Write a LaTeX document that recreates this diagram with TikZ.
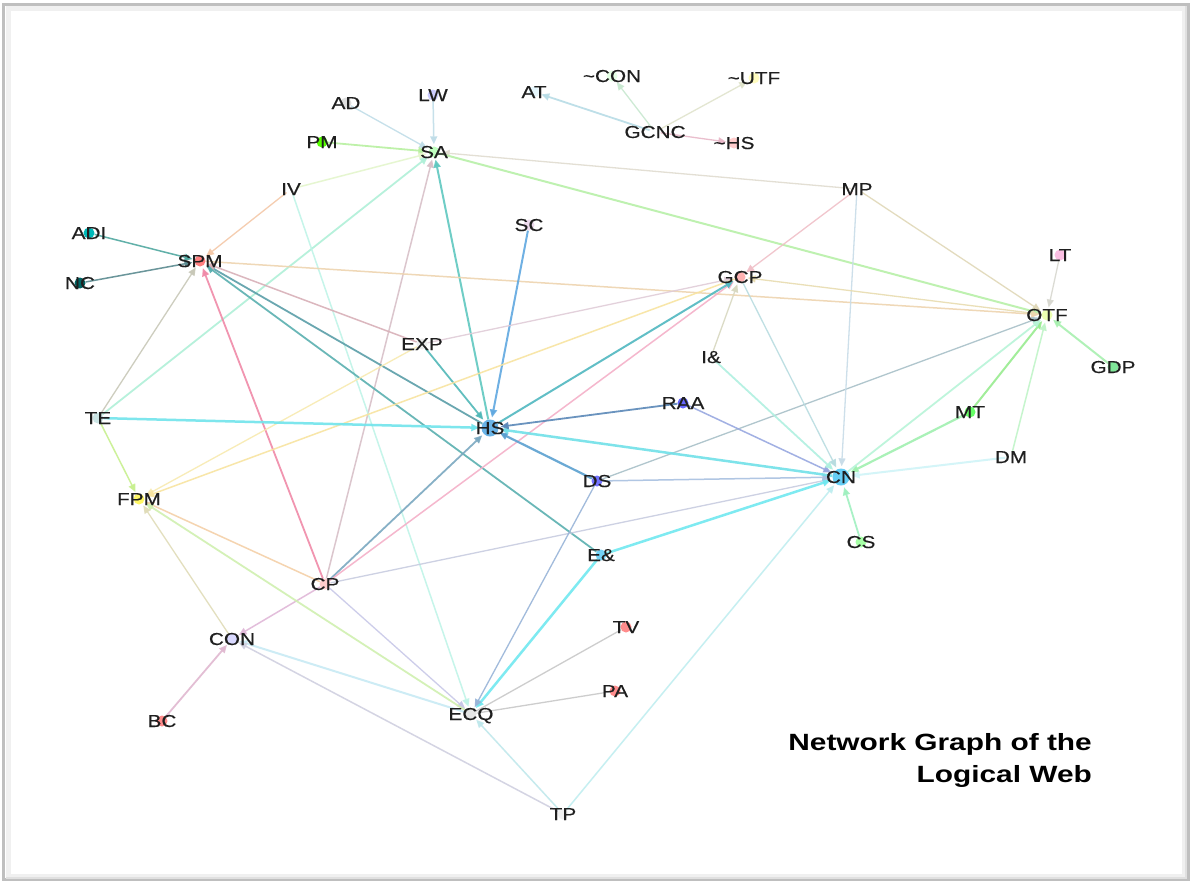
\documentclass[tikz,border=0pt]{standalone}
\usepackage{fontspec}
\usetikzlibrary{arrows.meta}
\newfontfamily\labfont[FakeStretch=1.2,FakeBold=0.35]{Liberation Sans}
\newfontfamily\titfont[FakeStretch=1.27]{Liberation Sans}
\pgfdeclarelayer{back}
\pgfdeclarelayer{edges}
\pgfsetlayers{back,edges,main}
\tikzset{
  dot/.style={circle, inner sep=0pt, minimum size=11pt, draw=none},
  bigdot/.style={circle, inner sep=0pt, minimum size=17pt, draw=none},
  lab/.style={font=\labfont\fontsize{17.3}{19}\selectfont, text=black!88, inner sep=0pt, anchor=base},
  ed/.style={line width=1.3pt, -{Triangle[length=8pt,width=7pt]}, shorten >=2pt, draw opacity=0.9},
  pl/.style={line width=1.3pt, draw opacity=0.9},
  titletext/.style={font=\titfont\bfseries\fontsize{23.5}{30}\selectfont, text=black, inner sep=0pt, anchor=base east}
}
\begin{document}
\begin{tikzpicture}[x=1pt,y=-1pt]
\useasboundingbox (0,0) rectangle (1192,884);
\begin{pgfonlayer}{back}
\fill[white] (0,0) rectangle (1192,884);
\draw[line width=5pt, black!6] (8,8) rectangle (1184,876);
\draw[line width=3pt, black!25] (3.5,4) rectangle (1188.5,879.5);
\draw[line width=2pt, black!12] (1186,6) -- (1186,878) -- (6,878);
\end{pgfonlayer}

% nodes (dots)
\node[dot, fill=gray!25] (AD) at (346,103) {};
\node[dot, fill=blue!20] (LW) at (433,95) {};
\node[dot, fill=cyan!10] (AT) at (534,92) {};
\node[dot, fill=green!10] (nCON) at (612,76) {};
\node[dot, fill=yellow!25] (nUTF) at (754,78) {};
\node[dot, fill=white] (GCNC) at (655,132) {};
\node[dot, fill=red!20] (nHS) at (734,143) {};
\node[dot, fill=green!55!lime] (PM) at (322,142) {};
\node[dot, fill=green!25] (SA) at (434,152) {};
\node[dot, fill=white] (IV) at (291,189) {};
\node[dot, fill=white] (MP) at (857,189) {};
\node[dot, fill=violet!15] (SC) at (529,225) {};
\node[dot, fill=teal!55!cyan] (ADI) at (89,233) {};
\node[dot, fill=red!50] (SPM) at (200,261) {};
\node[dot, fill=teal!80!black] (NC) at (80,283) {};
\node[dot, fill=red!30] (GCP) at (740,277) {};
\node[dot, fill=magenta!25] (LT) at (1060,255) {};
\node[dot, fill=lime!30] (OTF) at (1047,315) {};
\node[dot, fill=gray!15] (EXP) at (422,344) {};
\node[dot, fill=white] (Iand) at (711,357) {};
\node[dot, fill=teal!40!green!50] (GDP) at (1113,367) {};
\node[dot, fill=blue!60] (RAA) at (683,403) {};
\node[dot, fill=teal!20] (TE) at (98,418) {};
\node[bigdot, fill=cyan!75!blue!60] (HS) at (490,428) {};
\node[dot, fill=green!60] (MT) at (970,412) {};
\node[dot, fill=white] (DM) at (1011,457) {};
\node[dot, fill=blue!55] (DS) at (597,481) {};
\node[bigdot, fill=cyan!60] (CN) at (841,477) {};
\node[dot, fill=yellow!60] (FPM) at (139,499) {};
\node[dot, fill=green!35] (CS) at (861,542) {};
\node[dot, fill=cyan!55] (Eand) at (601,555) {};
\node[dot, fill=red!20] (CP) at (325,584) {};
\node[dot, fill=red!45] (TV) at (626,627) {};
\node[dot, fill=blue!15] (CON) at (232,639) {};
\node[dot, fill=red!45] (PA) at (615,691) {};
\node[dot, fill=red!45] (BC) at (162,721) {};
\node[dot, fill=gray!20] (ECQ) at (471,714) {};
\node[dot, fill=gray!12] (TP) at (563,814) {};

% labels
\node[lab] (AD-l) at ([yshift=-6pt]AD) {AD};
\node[lab] (LW-l) at ([yshift=-6pt]LW) {LW};
\node[lab] (AT-l) at ([yshift=-6pt]AT) {AT};
\node[lab] (nCON-l) at ([yshift=-6pt]nCON) {\textasciitilde CON};
\node[lab] (nUTF-l) at ([yshift=-6pt]nUTF) {\textasciitilde UTF};
\node[lab] (GCNC-l) at ([yshift=-6pt]GCNC) {GCNC};
\node[lab] (nHS-l) at ([yshift=-6pt]nHS) {\textasciitilde HS};
\node[lab] (PM-l) at ([yshift=-6pt]PM) {PM};
\node[lab] (SA-l) at ([yshift=-6pt]SA) {SA};
\node[lab] (IV-l) at ([yshift=-6pt]IV) {IV};
\node[lab] (MP-l) at ([yshift=-6pt]MP) {MP};
\node[lab] (SC-l) at ([yshift=-6pt]SC) {SC};
\node[lab] (ADI-l) at ([yshift=-6pt]ADI) {ADI};
\node[lab] (SPM-l) at ([yshift=-6pt]SPM) {SPM};
\node[lab] (NC-l) at ([yshift=-6pt]NC) {NC};
\node[lab] (GCP-l) at ([yshift=-6pt]GCP) {GCP};
\node[lab] (LT-l) at ([yshift=-6pt]LT) {LT};
\node[lab] (OTF-l) at ([yshift=-6pt]OTF) {OTF};
\node[lab] (EXP-l) at ([yshift=-6pt]EXP) {EXP};
\node[lab] (Iand-l) at ([yshift=-6pt]Iand) {I\&};
\node[lab] (GDP-l) at ([yshift=-6pt]GDP) {GDP};
\node[lab] (RAA-l) at ([yshift=-6pt]RAA) {RAA};
\node[lab] (TE-l) at ([yshift=-6pt]TE) {TE};
\node[lab] (HS-l) at ([yshift=-6pt]HS) {HS};
\node[lab] (MT-l) at ([yshift=-6pt]MT) {MT};
\node[lab] (DM-l) at ([yshift=-6pt]DM) {DM};
\node[lab] (DS-l) at ([yshift=-6pt]DS) {DS};
\node[lab] (CN-l) at ([yshift=-6pt]CN) {CN};
\node[lab] (FPM-l) at ([yshift=-6pt]FPM) {FPM};
\node[lab] (CS-l) at ([yshift=-6pt]CS) {CS};
\node[lab] (Eand-l) at ([yshift=-6pt]Eand) {E\&};
\node[lab] (CP-l) at ([yshift=-6pt]CP) {CP};
\node[lab] (TV-l) at ([yshift=-6pt]TV) {TV};
\node[lab] (CON-l) at ([yshift=-6pt]CON) {CON};
\node[lab] (PA-l) at ([yshift=-6pt]PA) {PA};
\node[lab] (BC-l) at ([yshift=-6pt]BC) {BC};
\node[lab] (ECQ-l) at ([yshift=-6pt]ECQ) {ECQ};
\node[lab] (TP-l) at ([yshift=-6pt]TP) {TP};

% title
\node[titletext] (title1) at (1092,750) {Network Graph of the};
\node[titletext] (title2) at (1092,782) {Logical Web};

% edges
\begin{pgfonlayer}{edges}
\draw[ed, draw={rgb,255:red,184;green,220;blue,230}, line width=1.8pt] (GCNC) -- (AT);
\draw[ed, draw={rgb,255:red,200;green,232;blue,208}] (GCNC) -- (nCON);
\draw[ed, draw={rgb,255:red,224;green,228;blue,204}] (GCNC) -- (nUTF);
\draw[ed, draw={rgb,255:red,232;green,184;blue,200}] (GCNC) -- (nHS);

\draw[ed, draw={rgb,255:red,192;green,221;blue,232}] (AD) -- (SA);
\draw[ed, draw={rgb,255:red,192;green,221;blue,232}, line width=1.5pt] (LW) -- (SA);
\draw[ed, draw={rgb,255:red,184;green,240;blue,160}, line width=1.8pt] (PM) -- (SA);
\draw[ed, draw={rgb,255:red,228;green,246;blue,204}, line width=1.5pt] (IV) -- (SA);
\draw[ed, draw={rgb,255:red,224;green,220;blue,208}] (MP) -- (SA);
\draw[ed, draw={rgb,255:red,184;green,240;blue,168}, line width=2pt] (SA) -- (OTF);
\draw[ed, draw={rgb,255:red,176;green,240;blue,216}, line width=1.8pt] (TE) -- (SA);
\draw[ed, draw={rgb,255:red,216;green,192;blue,200}, line width=1.5pt] (CP) -- (SA);
\draw[ed, draw={rgb,255:red,96;green,200;blue,192}, line width=2pt] (HS) -- (SA);

\draw[ed, draw={rgb,255:red,244;green,200;blue,168}] (IV) -- (SPM);
\draw[ed, draw={rgb,255:red,192;green,244;blue,232}, line width=1.5pt] (IV) -- (ECQ);
\draw[ed, draw={rgb,255:red,80;green,168;blue,160}, line width=1.5pt] (ADI) -- (SPM);
\draw[ed, draw={rgb,255:red,90;green,138;blue,144}, line width=1.5pt] (NC) -- (SPM);
\draw[ed, draw={rgb,255:red,200;green,200;blue,184}] (TE) -- (SPM);
\draw[ed, draw={rgb,255:red,240;green,138;blue,168}, line width=1.8pt] (CP) -- (SPM);
\draw[ed, draw={rgb,255:red,90;green,158;blue,168}, line width=1.8pt] (HS) -- (SPM);
\draw[ed, draw={rgb,255:red,90;green,176;blue,176}, line width=1.8pt] (Eand) -- (SPM);
\draw[ed, draw={rgb,255:red,216;green,176;blue,184}, line width=1.5pt] (EXP) -- (SPM);
\draw[ed, draw={rgb,255:red,238;green,212;blue,176}, line width=1.5pt] (SPM) -- (OTF);

\draw[ed, draw={rgb,255:red,80;green,184;blue,184}, line width=1.8pt] (EXP) -- (HS);
\draw[ed, draw={rgb,255:red,96;green,168;blue,224}, line width=2pt] (SC) -- (HS);
\draw[ed, draw={rgb,255:red,224;green,204;blue,216}] (EXP) -- (GCP);
\draw[ed, draw={rgb,255:red,248;green,234;blue,176}] (EXP) -- (FPM);
\draw[ed, draw={rgb,255:red,248;green,228;blue,160}, line width=1.5pt] (GCP) -- (FPM);
\draw[ed, draw={rgb,255:red,112;green,228;blue,236}, line width=2.5pt] (TE) -- (HS);
\draw[ed, draw={rgb,255:red,200;green,240;blue,144}, line width=1.5pt] (TE) -- (FPM);

\draw[ed, draw={rgb,255:red,122;green,168;blue,192}, line width=1.8pt] (CP) -- (HS);
\draw[ed, draw={rgb,255:red,244;green,176;blue,200}, line width=1.5pt] (CP) -- (GCP);
\draw[ed, draw={rgb,255:red,200;green,204;blue,224}] (CP) -- (CN);
\draw[ed, draw={rgb,255:red,224;green,184;blue,216}, line width=1.5pt] (CP) -- (CON);
\draw[ed, draw={rgb,255:red,200;green,200;blue,232}] (CP) -- (ECQ);
\draw[ed, draw={rgb,255:red,244;green,208;blue,168}, line width=1.5pt] (CP) -- (FPM);
\draw[ed, draw={rgb,255:red,208;green,240;blue,176}, line width=1.8pt] (ECQ) -- (FPM);
\draw[ed, draw={rgb,255:red,224;green,220;blue,184}] (CON) -- (FPM);
\draw[ed, draw={rgb,255:red,224;green,184;blue,208}, line width=1.8pt] (BC) -- (CON);
\draw[ed, draw={rgb,255:red,200;green,234;blue,244}, line width=2pt] (ECQ) -- (CON);
\draw[ed, draw={rgb,255:red,208;green,208;blue,224}, line width=1.5pt] (TP) -- (CON);
\draw[ed, draw={rgb,255:red,192;green,232;blue,236}, line width=1.5pt] (TP) -- (ECQ);
\draw[ed, draw={rgb,255:red,192;green,238;blue,240}, line width=1.5pt] (TP) -- (CN);
\draw[pl, draw={rgb,255:red,200;green,200;blue,200}] (ECQ) -- (TV);
\draw[pl, draw={rgb,255:red,200;green,200;blue,200}] (ECQ) -- (PA);
\draw[ed, draw={rgb,255:red,112;green,232;blue,240}, line width=2.5pt] (Eand) -- (ECQ);
\draw[ed, draw={rgb,255:red,152;green,180;blue,216}] (DS) -- (ECQ);
\draw[ed, draw={rgb,255:red,112;green,232;blue,240}, line width=2.5pt] (Eand) -- (CN);

\draw[ed, draw={rgb,255:red,90;green,160;blue,208}, line width=2.2pt] (DS) -- (HS);
\draw[ed, draw={rgb,255:red,168;green,192;blue,224}, line width=1.5pt] (DS) -- (CN);
\draw[ed, draw={rgb,255:red,168;green,192;blue,200}] (DS) -- (OTF);
\draw[ed, draw={rgb,255:red,112;green,224;blue,232}, line width=2.5pt] (CN) -- (HS);
\draw[ed, draw={rgb,255:red,90;green,136;blue,184}, line width=1.8pt] (RAA) -- (HS);
\draw[ed, draw={rgb,255:red,152;green,168;blue,224}, line width=1.5pt] (RAA) -- (CN);
\draw[ed, draw={rgb,255:red,80;green,184;blue,192}, line width=2pt] (HS) -- (GCP);
\draw[ed, draw={rgb,255:red,184;green,220;blue,224}] (GCP) -- (CN);
\draw[ed, draw={rgb,255:red,216;green,216;blue,192}] (Iand) -- (GCP);
\draw[ed, draw={rgb,255:red,176;green,240;blue,224}, line width=1.8pt] (Iand) -- (CN);
\draw[ed, draw={rgb,255:red,240;green,192;blue,200}] (MP) -- (GCP);
\draw[ed, draw={rgb,255:red,200;green,220;blue,232}] (MP) -- (CN);
\draw[ed, draw={rgb,255:red,224;green,216;blue,184}] (MP) -- (OTF);
\draw[ed, draw={rgb,255:red,216;green,216;blue,208}] (LT) -- (OTF);
\draw[ed, draw={rgb,255:red,168;green,240;blue,176}, line width=2pt] (GDP) -- (OTF);
\draw[ed, draw={rgb,255:red,152;green,236;blue,144}, line width=2pt] (MT) -- (OTF);
\draw[ed, draw={rgb,255:red,160;green,240;blue,176}, line width=2.2pt] (MT) -- (CN);
\draw[ed, draw={rgb,255:red,184;green,244;blue,216}, line width=1.8pt] (CN) -- (OTF);
\draw[ed, draw={rgb,255:red,192;green,244;blue,200}, line width=1.5pt] (DM) -- (OTF);
\draw[ed, draw={rgb,255:red,208;green,244;blue,248}, line width=2pt] (DM) -- (CN);
\draw[ed, draw={rgb,255:red,160;green,240;blue,192}, line width=1.8pt] (CS) -- (CN);
\draw[ed, draw={rgb,255:red,232;green,220;blue,176}] (OTF) -- (GCP);
\end{pgfonlayer}
\end{tikzpicture}
\end{document}
